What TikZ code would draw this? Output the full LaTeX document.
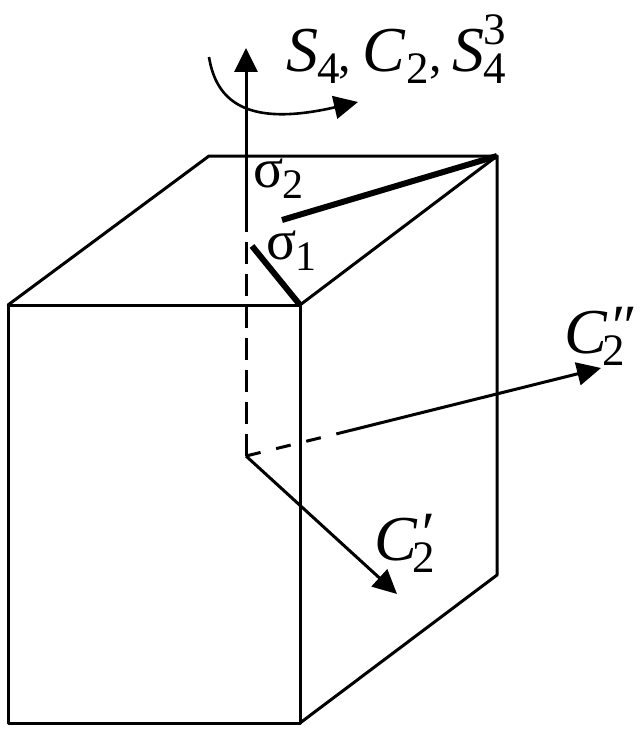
\documentclass[tikz,border=0pt]{standalone}
\usepackage{fontspec}
\setmainfont{Liberation Serif}
\usetikzlibrary{arrows.meta}
\newcommand{\fs}[1]{\fontsize{#1}{#1}\selectfont}
\newcommand{\Lab}[1]{{\fs{64}\itshape #1}}
\newcommand{\Sub}[1]{\raisebox{-12pt}{\fs{45}#1}}
\newcommand{\Sup}[1]{\raisebox{27pt}{\fs{45}#1}}
\newcommand{\SubSig}[1]{\raisebox{-11pt}{\fs{42}#1}}
\newcommand{\PrimeMark}[1]{\rlap{\kern6pt\raisebox{7pt}{\fs{60}\textit{#1}}}}
\tikzset{
  edge/.style={line width=3pt,line join=round,line cap=round},
  mirror/.style={line width=6pt},
  axis/.style={line width=3pt},
  axisdash/.style={line width=3pt,dash pattern=on 22pt off 10pt},
  tip/.style={-{Triangle[length=24pt,width=23pt]}},
  lab/.style={inner sep=0pt,anchor=base west},
}
\begin{document}
\begin{tikzpicture}[x=1pt,y=-1pt]
\useasboundingbox (0,0) rectangle (640,733);
\coordinate (fa) at (8,305);
\coordinate (fb) at (300,305);
\coordinate (fc) at (300,723);
\coordinate (fd) at (8,723);
\coordinate (ta) at (209,156);
\coordinate (tb) at (497,156);
\coordinate (rb) at (497,575);
\coordinate (o) at (246,456);
\coordinate (zs) at (246,232);
\coordinate (zt) at (246,48);
\coordinate (m2) at (340,433);
\coordinate (x2) at (601,368);
\coordinate (x1) at (397,594);
\coordinate (s2) at (282,220);
\coordinate (s1) at (252,246);
\coordinate (cs) at (209,57);
\coordinate (ct) at (358,102);
\draw[edge] (fa) -- (fb) -- (fc) -- (fd) -- cycle;
\draw[edge] (fa) -- (ta) -- (tb) -- (fb);
\draw[edge] (tb) -- (rb) -- (fc);
\draw[axisdash] (o) -- (zs);
\draw[axis,tip] (zs) -- (zt);
\draw[axisdash,dash pattern=on 15pt off 16pt] (o) -- (m2);
\draw[axis,tip] (m2) -- (x2);
\draw[axis,tip] (o) -- (x1);
\draw[mirror] (s2) -- (tb);
\draw[mirror] (s1) -- (fb);
\draw[line width=2.6pt,tip] (cs) .. controls (216,100) and (245,128) .. (ct);
\node[lab] (lz) at (286,72) {\Lab{S}\kern-1pt\Sub{4}\kern-1pt{\fs{50},}\kern11pt\Lab{C}\kern2pt\Sub{2}{\fs{50},}\kern11pt\Lab{S}\kern-1pt\rlap{\Sup{3}}\Sub{4}};
\node[lab] (ls2) at (253,187) {{\fs{56}σ}\kern-1pt\SubSig{2}};
\node[lab] (ls1) at (266,259) {{\fs{56}σ}\kern-1pt\SubSig{1}};
\node[lab] (lc2) at (564,353) {\Lab{C}\kern-4pt\PrimeMark{″}\Sub{2}};
\node[lab] (lc1) at (374,560) {\Lab{C}\kern-4pt\PrimeMark{′}\Sub{2}};
\end{tikzpicture}
\end{document}
